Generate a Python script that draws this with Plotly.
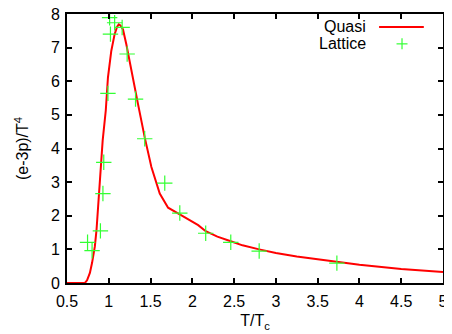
import plotly.graph_objects as go

# Quasi-particle model curve
quasi_x = [0.5, 0.70, 0.714, 0.74, 0.774, 0.80, 0.813, 0.833, 0.853, 0.873, 0.886, 0.893,
           0.915, 0.927, 0.964, 0.99, 1.03, 1.07, 1.10, 1.12, 1.14, 1.17, 1.21, 1.27, 1.35,
           1.43, 1.51, 1.61, 1.71, 1.87, 2.07, 2.16, 2.3, 2.46, 2.6, 2.8, 3.0, 3.25, 3.5,
           3.73, 4.0, 4.5, 5.0]
quasi_y = [0.0, 0.0, 0.0, 0.08, 0.30, 0.6, 0.78, 1.08, 1.57, 2.26, 2.76, 3.05,
           3.94, 4.24, 5.13, 6.11, 6.90, 7.40, 7.62, 7.69, 7.66, 7.54, 7.10, 6.31, 5.32,
           4.33, 3.45, 2.66, 2.24, 2.01, 1.72, 1.54, 1.38, 1.24, 1.12, 1.0, 0.89, 0.79, 0.71,
           0.62, 0.54, 0.42, 0.33]

# Lattice data
lat_x = [0.746, 0.80, 0.90, 0.93, 0.94, 0.99, 1.01, 1.02, 1.07, 1.16, 1.22, 1.32, 1.43,
         1.67, 1.85, 2.16, 2.46, 2.80, 3.73]
lat_y = [1.21, 0.96, 1.55, 2.66, 3.59, 5.64, 7.89, 7.40, 7.74, 7.60, 6.81, 5.47, 4.29,
         2.97, 2.08, 1.48, 1.21, 0.95, 0.59]

x_ticks = [0.5, 1, 1.5, 2, 2.5, 3, 3.5, 4, 4.5, 5]
x_ticklabels = ["0.5", "1", "1.5", "2", "2.5", "3", "3.5", "4", "4.5", "5"]
y_ticks = [0, 1, 2, 3, 4, 5, 6, 7, 8]

series_names = ["Quasi", "Lattice"]
RED = "#ff0000"
GREEN = "#33ff33"
FONT = "Liberation Sans, Arial, sans-serif"
FS = 16

fig = go.Figure()
fig.add_trace(go.Scatter(x=quasi_x, y=quasi_y, mode="lines", name=series_names[0],
                         line=dict(color=RED, width=2), showlegend=False))
fig.add_trace(go.Scatter(x=lat_x, y=lat_y, mode="markers", name=series_names[1],
                         marker=dict(symbol="cross-thin", size=11,
                                     line=dict(color=GREEN, width=1.2)),
                         showlegend=False))

axis_common = dict(showline=True, linecolor="black", linewidth=2, mirror="ticks",
                   ticks="inside", ticklen=5, tickwidth=2, tickcolor="black",
                   showgrid=False, zeroline=False, automargin=False,
                   ticklabeloverflow="allow",
                   tickfont=dict(family=FONT, size=FS, color="black"))

fig.update_xaxes(range=[0.5, 5], tickvals=x_ticks, ticktext=x_ticklabels,
                 ticklabelstandoff=3,
                 title=dict(text="T/T<sub>c</sub>", font=dict(family=FONT, size=FS, color="black"),
                            standoff=6),
                 **axis_common)
fig.update_yaxes(range=[0, 8], tickvals=y_ticks,
                 ticklabelstandoff=2,
                 title=dict(text="(e-3p)/T<sup>4</sup>", font=dict(family=FONT, size=FS, color="black"),
                            standoff=18),
                 **axis_common)

# gnuplot-style key: text on the left, sample on the right
fig.add_annotation(xref="paper", yref="paper", x=0.80, y=0.952, text=series_names[0],
                   showarrow=False, xanchor="right", yanchor="middle",
                   font=dict(family=FONT, size=FS, color="black"))
fig.add_annotation(xref="paper", yref="paper", x=0.80, y=0.889, text=series_names[1],
                   showarrow=False, xanchor="right", yanchor="middle",
                   font=dict(family=FONT, size=FS, color="black"))
fig.add_shape(type="line", xref="paper", yref="paper", x0=0.83, x1=0.949, y0=0.952, y1=0.952,
              line=dict(color=RED, width=2))
fig.add_shape(type="line", xref="paper", yref="paper", x0=0.891 - 0.0146, x1=0.891 + 0.0146,
              y0=0.889, y1=0.889, line=dict(color=GREEN, width=1.2))
fig.add_shape(type="line", xref="paper", yref="paper", x0=0.891, x1=0.891,
              y0=0.889 - 0.0204, y1=0.889 + 0.0204, line=dict(color=GREEN, width=1.2))

# page body has an 8px default margin, so the figure is 8px smaller and offset
fig.update_layout(width=444, height=326, margin=dict(l=59, r=9, t=6, b=51),
                  plot_bgcolor="white", paper_bgcolor="white", showlegend=False,
                  font=dict(family=FONT, size=FS, color="black"))

fig.write_html("out.html")
